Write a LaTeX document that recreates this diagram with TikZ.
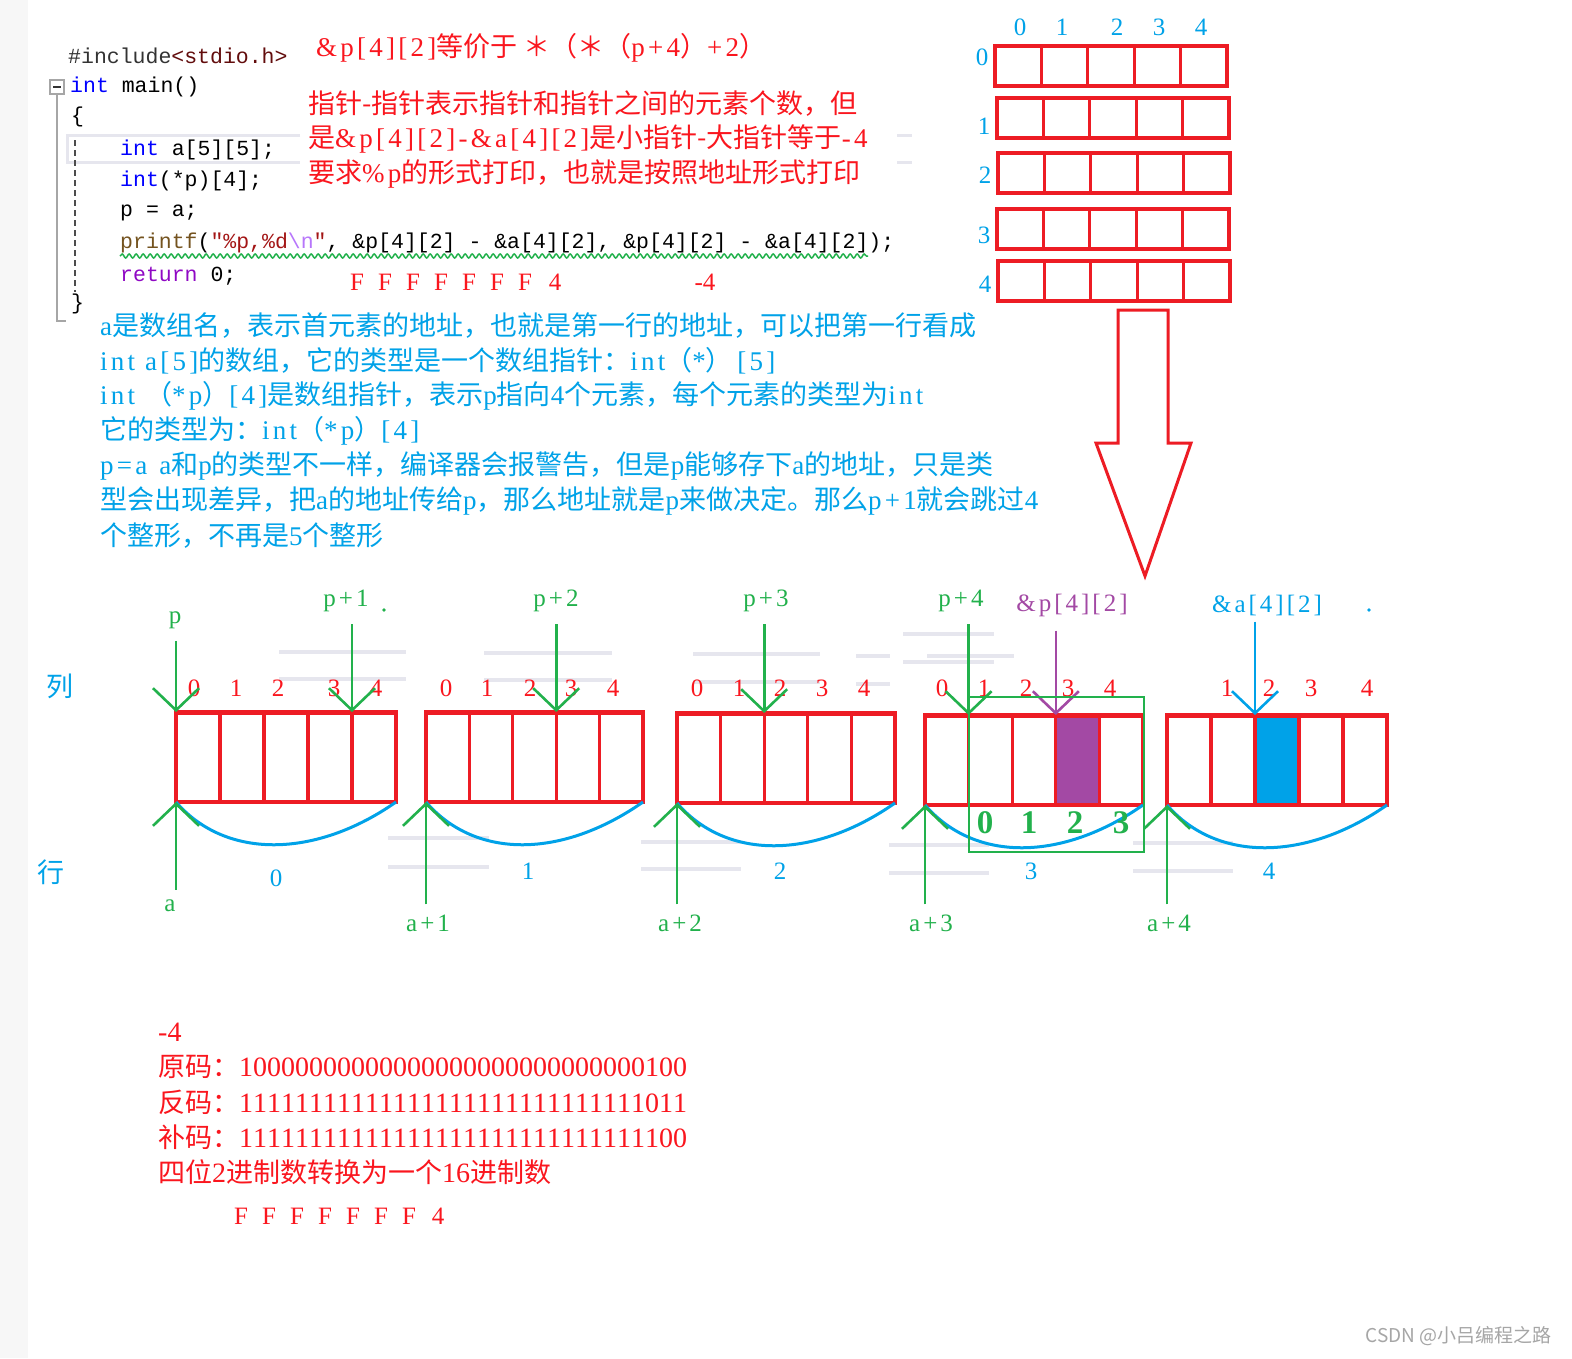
\documentclass[tikz,border=0pt]{standalone}
\usepackage{fontspec}
\setmainfont{Liberation Serif}
\newfontfamily\cjk{Noto Sans CJK SC}
\newfontfamily\codefont{Liberation Mono}
\newfontfamily\latw[LetterSpace=12]{Liberation Serif}
\newfontfamily\bitfont[Kerning=Off]{Liberation Serif}
\usetikzlibrary{arrows.meta,decorations.pathmorphing}

\definecolor{boxred}{RGB}{237,28,36}
\definecolor{txtred}{RGB}{250,22,30}
\definecolor{skyblue}{RGB}{0,162,232}
\definecolor{ptrgreen}{RGB}{34,177,76}
\definecolor{markpurple}{RGB}{163,73,164}
\definecolor{kwblue}{RGB}{0,0,255}
\definecolor{kwpurple}{RGB}{143,8,196}
\definecolor{fnbrown}{RGB}{116,83,31}
\definecolor{strred}{RGB}{163,21,21}
\definecolor{escpurple}{RGB}{183,118,251}
\definecolor{ghost}{RGB}{230,230,238}
\newcommand{\zh}[1]{{\cjk #1}}

\begin{document}
\begin{tikzpicture}[x=1pt,y=-1pt,
  every node/.style={inner sep=0pt},
  code/.style={font=\codefont\fontsize{21.5}{24}\selectfont,anchor=west},
  note/.style={font=\latw\fontsize{27}{30}\selectfont,anchor=west},
  bits/.style={font=\bitfont\fontsize{28}{30}\selectfont,anchor=west},
  num/.style={font=\fontsize{25}{28}\selectfont},
  tag/.style={font=\latw\fontsize{25}{28}\selectfont},
  cell/.style={draw=boxred,line width=3.2pt},
  ptr/.style={draw=ptrgreen,line width=2.6pt,-{Straight Barb[length=22pt,width=46pt]}},
  brace/.style={draw=skyblue,line width=3pt}]
\useasboundingbox (0,0) rectangle (1572,1358);
\fill[white] (0,0) rectangle (1572,1358);
\fill[gray!6] (0,0) rectangle (28,1358);

% faint bars left over from the editor
\foreach \xa/\xb/\y in {279/406/652,279/406/679,484/612/653,484/612/680,693/820/654,693/820/682,
  856/890/656,856/890/684,903/994/634,903/994/662,927/1014/656,388/489/838,388/489/867,
  641/741/842,641/741/869,889/989/845,889/989/873,1133/1233/843,1133/1233/871}
  \draw[ghost,line width=4pt] (\xa,\y) -- (\xb,\y);

% code
\draw[ghost,line width=3pt] (300,135) -| (67,162) -- (300,162);
\draw[ghost,line width=3pt] (897,135) -- (912,135) (897,162) -- (912,162);
\draw[gray!70,line width=1.5pt] (50,80) rectangle (64,94);
\draw[gray!40!black,line width=1.5pt] (53,87) -- (61,87);
\draw[gray!70,line width=1.5pt] (57,94) -- (57,321) -- (66,321);
\draw[gray!60!black,line width=1.6pt,dash pattern=on 6pt off 4pt] (75,140) -- (75,292);
\node[code,text=gray!40!black] (inc) at (68,56) {\#include\textcolor{strred!60!black}{<stdio.h>}};
\node[code] (main) at (70,87) {\textcolor{kwblue}{int} main()};
\node[code] (lbrace) at (71,117) {\{};
\node[code] (decla) at (120,150) {\textcolor{kwblue}{int} a[5][5];};
\node[code] (declp) at (120,181) {\textcolor{kwblue}{int}(*p)[4];};
\node[code] (assign) at (120,213) {p = a;};
\node[code] (call) at (120,243) {\textcolor{fnbrown}{printf}(\textcolor{strred}{"\%p,\%d}\textcolor{escpurple}{\textbackslash n}\textcolor{strred}{"}, \&p[4][2] - \&a[4][2], \&p[4][2] - \&a[4][2]);};
\node[code] (ret) at (120,276) {\textcolor{kwpurple}{return} 0;};
\node[code] (rbrace) at (71,304) {\}};
\draw[ptrgreen,line width=1.5pt,decorate,decoration={snake,amplitude=2pt,segment length=7pt}] (120,256) -- (868,256);

% red notes
\node[note,text=txtred] (equiv) at (316,48) {\&p[4][2]\zh{等价于 ＊（＊（}p+4\zh{）}+2\zh{）}};
\node[note,text=txtred] (diffa) at (308,104) {\zh{指针-指针表示指针和指针之间的元素个数，但}};
\node[note,text=txtred] (diffb) at (308,139) {\zh{是}\&p[4][2]-\&a[4][2]\zh{是小指针-大指针等于}-4};
\node[note,text=txtred] (diffc) at (308,174) {\zh{要求}\%p\zh{的形式打印，也就是按照地址形式打印}};
\foreach \k in {0,...,6}
  \node[num,text=txtred] (outf\k) at (357+28*\k,282) {F};
\node[num,text=txtred] (outfour) at (555,282) {4};
\node[num,text=txtred] (outneg) at (705,282) {-4};

% blue notes
\node[note,text=skyblue] (expa) at (100,326) {a\zh{是数组名，表示首元素的地址，也就是第一行的地址，可以把第一行看成}};
\node[note,text=skyblue] (expb) at (100,361) {int a[5]\zh{的数组，它的类型是一个数组指针：}int\zh{（}*\zh{）}\,[5]};
\node[note,text=skyblue] (expc) at (100,396) {int \zh{（}*p\zh{）}[4]\zh{是数组指针，表示}p\zh{指向}4\zh{个元素，每个元素的类型为}int};
\node[note,text=skyblue] (expd) at (100,431) {\zh{它的类型为：}int\zh{（}*p\zh{）}[4]};
\node[note,text=skyblue] (expe) at (100,466) {p=a\hspace{12pt}a\zh{和}p\zh{的类型不一样，编译器会报警告，但是}p\zh{能够存下}a\zh{的地址，只是类}};
\node[note,text=skyblue] (expf) at (100,501) {\zh{型会出现差异，把}a\zh{的地址传给}p\zh{，那么地址就是}p\zh{来做决定。那么}p+1\zh{就会跳过}4};
\node[note,text=skyblue] (expg) at (100,536) {\zh{个整形，不再是}5\zh{个整形}};

% 5x5 grid
\foreach \x/\n in {1020/0,1062/1,1117/2,1159/3,1201/4}
  \node[num,text=skyblue] (gridcol\n) at (\x,27) {\n};
\foreach \r/\bx/\by/\ly in {0/995/46/57,1/997/98/126,2/998/153/175,3/997/209/235,4/998/261/284} {
  \foreach \c in {0,...,4}
    \draw[cell] (\bx+46.4*\c,\by) rectangle ++(46.4,40);
  \node[num,text=skyblue] (gridrow\r) at (\bx-13,\ly) {\r};
}
\draw[boxred,line width=3pt] (1118,310) -- (1168,310) -- (1168,443) -- (1191,443)
  -- (1145,576) -- (1096,443) -- (1118,443) -- cycle;

% rows laid out in memory
\foreach \r/\bx/\by/\w in {0/176/712/44,1/426/712/43.4,2/677/713/43.6,3/925/715/43.6,4/1167/715/44} {
  \foreach \c in {0,...,5}
    \coordinate (cell\r\c) at (\bx+\w*\c,\by);
  \coordinate (rowsw\r) at (\bx,\by+90);
  \coordinate (rowse\r) at (\bx+5*\w,\by+90);
}
\fill[markpurple] (cell33) rectangle (cell34 |- rowsw3);
\fill[skyblue] (cell42) rectangle (cell43 |- rowsw4);
\foreach \r/\bx/\by/\w in {0/176/712/44,1/426/712/43.4,2/677/713/43.6,3/925/715/43.6,4/1167/715/44} {
  \foreach \c in {0,...,4}
    \draw[cell] (\bx+\w*\c,\by) rectangle ++(\w,90);
  \draw[boxred,line width=5pt] (cell\r0) -- (cell\r5);
}
\foreach \x/\n in {194/0,236/1,278/2,334/3,376/4,446/0,487/1,530/2,571/3,613/4,
  697/0,739/1,780/2,822/3,864/4,942/0,984/1,1026/2,1068/3,1110/4,1227/1,1269/2,1311/3,1367/4}
  \node[num,text=txtred] (colnum\x) at (\x,688) {\n};

% row braces
\foreach \r/\x/\y in {0/276/878,1/528/871,2/780/871,3/1031/871,4/1269/871} {
  \draw[brace] (rowsw\r) .. controls +(50,58) and +(-80,56) .. (rowse\r);
  \node[num,text=skyblue] (rowidx\r) at (\x,\y) {\r};
}

% p, p+1, ... and the two elements
\node[tag,text=ptrgreen] (lp0) at (175,620) {p};
\node[tag,text=ptrgreen] (lp1) at (346,601) {p+1};
\node[tag,text=ptrgreen] (lp2) at (556,601) {p+2};
\node[tag,text=ptrgreen] (lp3) at (766,601) {p+3};
\node[tag,text=ptrgreen] (lp4) at (961,601) {p+4};
\foreach \k/\r/\c in {0/0/0,1/0/4,2/1/3,3/2/2,4/3/1}
  \draw[ptr] (cell\r\c |- lp\k.south) ++(0,12) -- (cell\r\c);
\node[tag,text=markpurple] (lpelem) at (1072,605) {\&p[4][2]};
\draw[ptr,draw=markpurple] (cell33 |- lpelem.south) ++(0,14) -- (cell33);
\node[tag,text=skyblue] (laelem) at (1267,605) {\&a[4][2]};
\draw[ptr,draw=skyblue] (cell42 |- laelem.south) ++(0,6) -- (cell42);
\fill[ptrgreen] (384,610) circle (1.8);
\fill[skyblue] (1369,610) circle (1.8);

% a, a+1, ...
\node[tag,text=ptrgreen] (la0) at (170,906) {a};
\node[tag,text=ptrgreen] (la1) at (428,923) {a+1};
\node[tag,text=ptrgreen] (la2) at (680,923) {a+2};
\node[tag,text=ptrgreen] (la3) at (931,923) {a+3};
\node[tag,text=ptrgreen] (la4) at (1169,923) {a+4};
\foreach \k in {0,...,4}
  \draw[ptr] (rowsw\k |- la\k.north) ++(0,-10) -- (rowsw\k);

% p+4 sees four ints
\draw[ptrgreen,line width=2.8pt] (969,697) rectangle (1144,852);
\foreach \x/\n in {985/0,1029/1,1075/2,1121/3}
  \node[num,font=\bfseries\fontsize{33}{36}\selectfont,text=ptrgreen] (subidx\n) at (\x,823) {\n};

\node[note,anchor=center,text=skyblue] (colaxis) at (60,686) {\zh{列}};
\node[note,anchor=center,text=skyblue] (rowaxis) at (51,872) {\zh{行}};

% -4 in binary
\node[bits,text=txtred] (bneg) at (158,1032) {-4};
\node[bits,text=txtred] (borig) at (158,1067) {\zh{\fontsize{27}{30}\selectfont 原码：}1000{}0000{}0000{}0000{}0000{}0000{}0000{}0100};
\node[bits,text=txtred] (binv) at (158,1102) {\zh{\fontsize{27}{30}\selectfont 反码：}1111{}1111{}1111{}1111{}1111{}1111{}1111{}1011};
\node[bits,text=txtred] (bcomp) at (158,1137) {\zh{\fontsize{27}{30}\selectfont 补码：}1111{}1111{}1111{}1111{}1111{}1111{}1111{}1100};
\node[bits,text=txtred] (bhex) at (158,1172) {\zh{\fontsize{27}{30}\selectfont 四位}2\zh{\fontsize{27}{30}\selectfont 进制数转换为一个}16\zh{\fontsize{27}{30}\selectfont 进制数}};
\foreach \k in {0,...,6}
  \node[num,text=txtred] (hexf\k) at (241+28*\k,1216) {F};
\node[num,text=txtred] (hexfour) at (438,1216) {4};

\node[font=\cjk\fontsize{19}{20}\selectfont,text=gray!70,anchor=east] (mark) at (1552,1336) {CSDN @小吕编程之路};
\end{tikzpicture}
\end{document}
